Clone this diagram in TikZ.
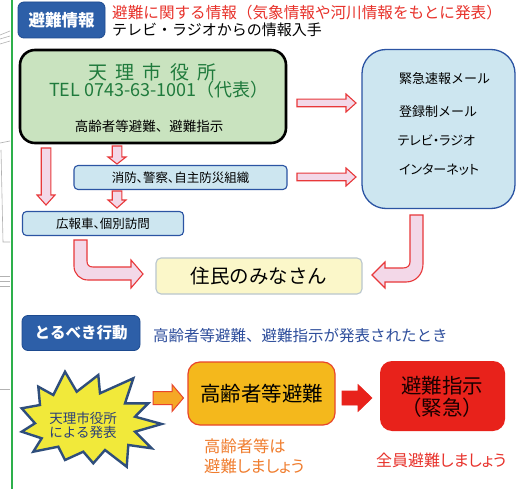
\documentclass[tikz,border=0pt]{standalone}
\usepackage{fontspec}
\setmainfont{Noto Sans CJK JP}
\newfontfamily\pfont[RawFeature=+palt]{Noto Sans CJK JP}
\newcommand\myfs[1]{\fontsize{#1}{#1}\selectfont}
\definecolor{badgeblue}{HTML}{2D5FA8}
\definecolor{badgeline}{HTML}{1D4A8F}
\definecolor{redtxt}{HTML}{E8322B}
\definecolor{greenfill}{HTML}{C9E3BF}
\definecolor{greentext}{HTML}{1F7A3C}
\definecolor{mediafill}{HTML}{CDE6F0}
\definecolor{mediline}{HTML}{2B54A3}
\definecolor{resfill}{HTML}{FBF7C9}
\definecolor{resline}{HTML}{B9C6CE}
\definecolor{arrowpink}{HTML}{F3D8E8}
\definecolor{arrowred}{HTML}{E8383A}
\definecolor{bluetext}{HTML}{2E4E9C}
\definecolor{starfill}{HTML}{F1E93A}
\definecolor{starline}{HTML}{2F4E7C}
\definecolor{startext}{HTML}{2B3F78}
\definecolor{orangearrow}{HTML}{F5A826}
\definecolor{orangebox}{HTML}{F4B81C}
\definecolor{orangeline}{HTML}{E8452B}
\definecolor{redbox}{HTML}{E8221B}
\definecolor{orangetext}{HTML}{F07D2E}
\definecolor{greenline}{HTML}{2DB04B}
\newcommand\fatright[7]{% style, x1, x2, y, h, H, L
  \draw[#1] (#2,#4-#5) -- (#3-#7,#4-#5) -- (#3-#7,#4-#6) -- (#3,#4) -- (#3-#7,#4+#6) -- (#3-#7,#4+#5) -- (#2,#4+#5) -- cycle;}
\newcommand\fatdown[7]{% style, x, y1, y2, h, H, L
  \draw[#1] (#2-#5,#3) -- (#2-#5,#4-#7) -- (#2-#6,#4-#7) -- (#2,#4) -- (#2+#6,#4-#7) -- (#2+#5,#4-#7) -- (#2+#5,#3) -- cycle;}
\tikzset{
  badge/.style={draw=badgeline, line width=0.8pt, fill=badgeblue, rounded corners=6, text=white, inner sep=0pt},
  plain/.style={inner sep=0pt},
  greenbox/.style={draw=black, line width=2.6pt, fill=greenfill, rounded corners=15},
  mediabox/.style={draw=mediline, line width=1.3pt, fill=mediafill, rounded corners=24},
  smallbox/.style={draw=mediline, line width=1.1pt, fill=mediafill, rounded corners=4, inner sep=0pt, font=\pfont\myfs{12.5}},
  resbox/.style={draw=resline, line width=1.1pt, fill=resfill, rounded corners=5, inner sep=0pt, font=\myfs{19.5}},
  pinkarrow/.style={fill=arrowpink, draw=arrowred, line width=1.1pt, line join=miter},
  orangearr/.style={fill=orangearrow, draw=orangeline, line width=1pt, line join=miter},
  redarr/.style={fill=redbox, draw=redbox, line width=0.6pt, line join=miter},
  starshape/.style={fill=starfill, draw=starline, line width=2.4pt, line join=miter},
  bigbox/.style={rounded corners=12, inner sep=0pt},
  edge/.style={draw=black!30, line width=0.6pt}
}
\begin{document}
\begin{tikzpicture}[x=1pt,y=-1pt]
\useasboundingbox (0,0) rectangle (522,489);
\fill[white] (0,0) rectangle (522,489);
% fragments of neighbouring page
\draw[edge] (0,35) -- (10,31);
\draw[edge] (0,39) -- (10,36);
\draw[edge] (0,44) -- (10,41);
\draw[edge] (0,143) -- (10,141);
\draw[edge] (1,150) -- (3,242) -- (10,242);
\draw[edge] (0,276) -- (10,276);
\draw[edge] (0,281) -- (10,281);
\draw[edge] (0,286) -- (10,286);
\draw[edge] (0,389) -- (10,389);
\draw[greenline, line width=2pt] (11.5,0) -- (11.5,489);

% header
\node[badge, minimum width=87, minimum height=36, font=\bfseries\myfs{16.5}] (hinan) at (61.5,20) {避難情報};
\node[plain, anchor=west, text=redtxt, font=\myfs{15.6}] (info1) at (112,12.5) {避難に関する情報（気象情報や河川情報をもとに発表）};
\node[plain, anchor=west, font=\myfs{15}] (info2) at (112,29.5) {テレビ・ラジオからの情報入手};

% city office
\node[greenbox, minimum width=266, minimum height=93] (city) at (153,96.5) {};
\node[plain, text=greentext, font=\myfs{19}] (cityname) at (152.5,72) {天\hspace{8.5pt}理\hspace{8.5pt}市\hspace{8.5pt}役\hspace{8.5pt}所};
\node[plain, text=greentext, font=\myfs{18}] (tel) at (159,90) {TEL 0743-63-1001（代表）};
\node[plain, font=\myfs{13.5}] (cityorder) at (149,126) {高齢者等避難、避難指示};

% media
\node[mediabox, minimum width=153, minimum height=159] (media) at (438.5,129) {};
\node[plain, anchor=west, font=\myfs{13}] (m1) at (399,78.5) {緊急速報メール};
\node[plain, anchor=west, font=\myfs{13}] (m2) at (399,112) {登録制メール};
\node[plain, anchor=west, font=\pfont\myfs{13}] (m3) at (397.5,140) {テレビ・ラジオ};
\node[plain, anchor=west, font=\pfont\myfs{13}] (m4) at (399,170) {インターネット};

% small boxes
\node[smallbox, minimum width=213, minimum height=24] (fire) at (180.5,177.5) {消防、警察、自主防災組織};
\node[smallbox, minimum width=161, minimum height=24] (pr) at (103,223.5) {広報車、個別訪問};

% residents
\node[resbox, minimum width=206, minimum height=36] (res) at (259,276) {住民のみなさん};

% arrows upper part
\fatright{pinkarrow}{297}{356}{103}{3.8}{9}{10}
\fatright{pinkarrow}{297}{356}{177}{3.8}{9}{10}
\fatdown{pinkarrow}{46}{148}{205}{4.8}{9}{10}
\fatdown{pinkarrow}{117}{146}{164}{4.8}{9}{7}
\fatdown{pinkarrow}{117}{191}{208}{4.8}{9}{8}
\draw[pinkarrow] (74,240) -- (74,266) .. controls (74,274) and (80,280) .. (88,280) -- (131,280) -- (131,288) -- (143,274) -- (131,260) -- (131,267) -- (93,267) .. controls (89,267) and (87,265) .. (87,261) -- (87,240) -- cycle;
\draw[pinkarrow] (410,215) -- (410,262) .. controls (410,266) and (407,268) .. (403,268) -- (385,268) -- (385,262) -- (372,275) -- (385,288) -- (385,282) -- (406,282) .. controls (416,282) and (423,274) .. (423,264) -- (423,215) -- cycle;

% action section
\node[badge, minimum width=118, minimum height=35, font=\bfseries\myfs{15.5}] (action) at (81,333) {とるべき行動};
\node[plain, anchor=west, text=bluetext, font=\myfs{15.5}] (when) at (153,336) {高齢者等避難、避難指示が発表されたとき};

\draw[starshape] (38.3,386.7) -- (53.3,395) -- (65,371.7) -- (76.7,391.7) -- (98.3,375) -- (100,393.3) -- (133.3,378.3) -- (125,403.3) -- (148.3,403.3) -- (135,416.7) -- (161.7,424) -- (135,431.7) -- (151.7,448.3) -- (128.3,445) -- (126.7,466.7) -- (105,450) -- (93.3,463.3) -- (83.3,451.7) -- (65,460) -- (58.3,446.7) -- (33.3,451.7) -- (41.7,438.3) -- (21.7,431.7) -- (35,423.3) -- (21.7,408.3) -- (40,405) -- cycle;
\node[plain, text=startext, align=center, font=\fontsize{13.5}{14}\selectfont] (announce) at (83,425) {天理市役所\\による発表};

\node[bigbox, draw=orangeline, line width=1.2pt, fill=orangebox, minimum width=147, minimum height=63, font=\myfs{20.5}] (elderly) at (261.5,393.5) {高齢者等避難};
\node[bigbox, fill=redbox, minimum width=125, minimum height=70] (order) at (442.5,396) {};
\node[plain, text=black!90!red, font=\myfs{20.5}] (order1) at (442,386) {避難指示};
\node[plain, text=black!90!red, font=\myfs{20.5}] (order2) at (442,408) {（緊急）};

\fatright{orangearr}{153}{183.5}{398}{6.5}{13.5}{11.5}
\fatright{redarr}{342}{372}{398}{7}{13.5}{14}

\node[plain, anchor=west, text=orangetext, font=\pfont\myfs{16.3}] (eld1) at (204,446) {高齢者等は};
\node[plain, anchor=west, text=orangetext, font=\pfont\myfs{16.3}] (eld2) at (204,466) {避難しましょう};
\node[plain, anchor=west, text=redtxt, font=\pfont\myfs{16}] (all) at (376,460) {全員避難しましょう};
\end{tikzpicture}
\end{document}
